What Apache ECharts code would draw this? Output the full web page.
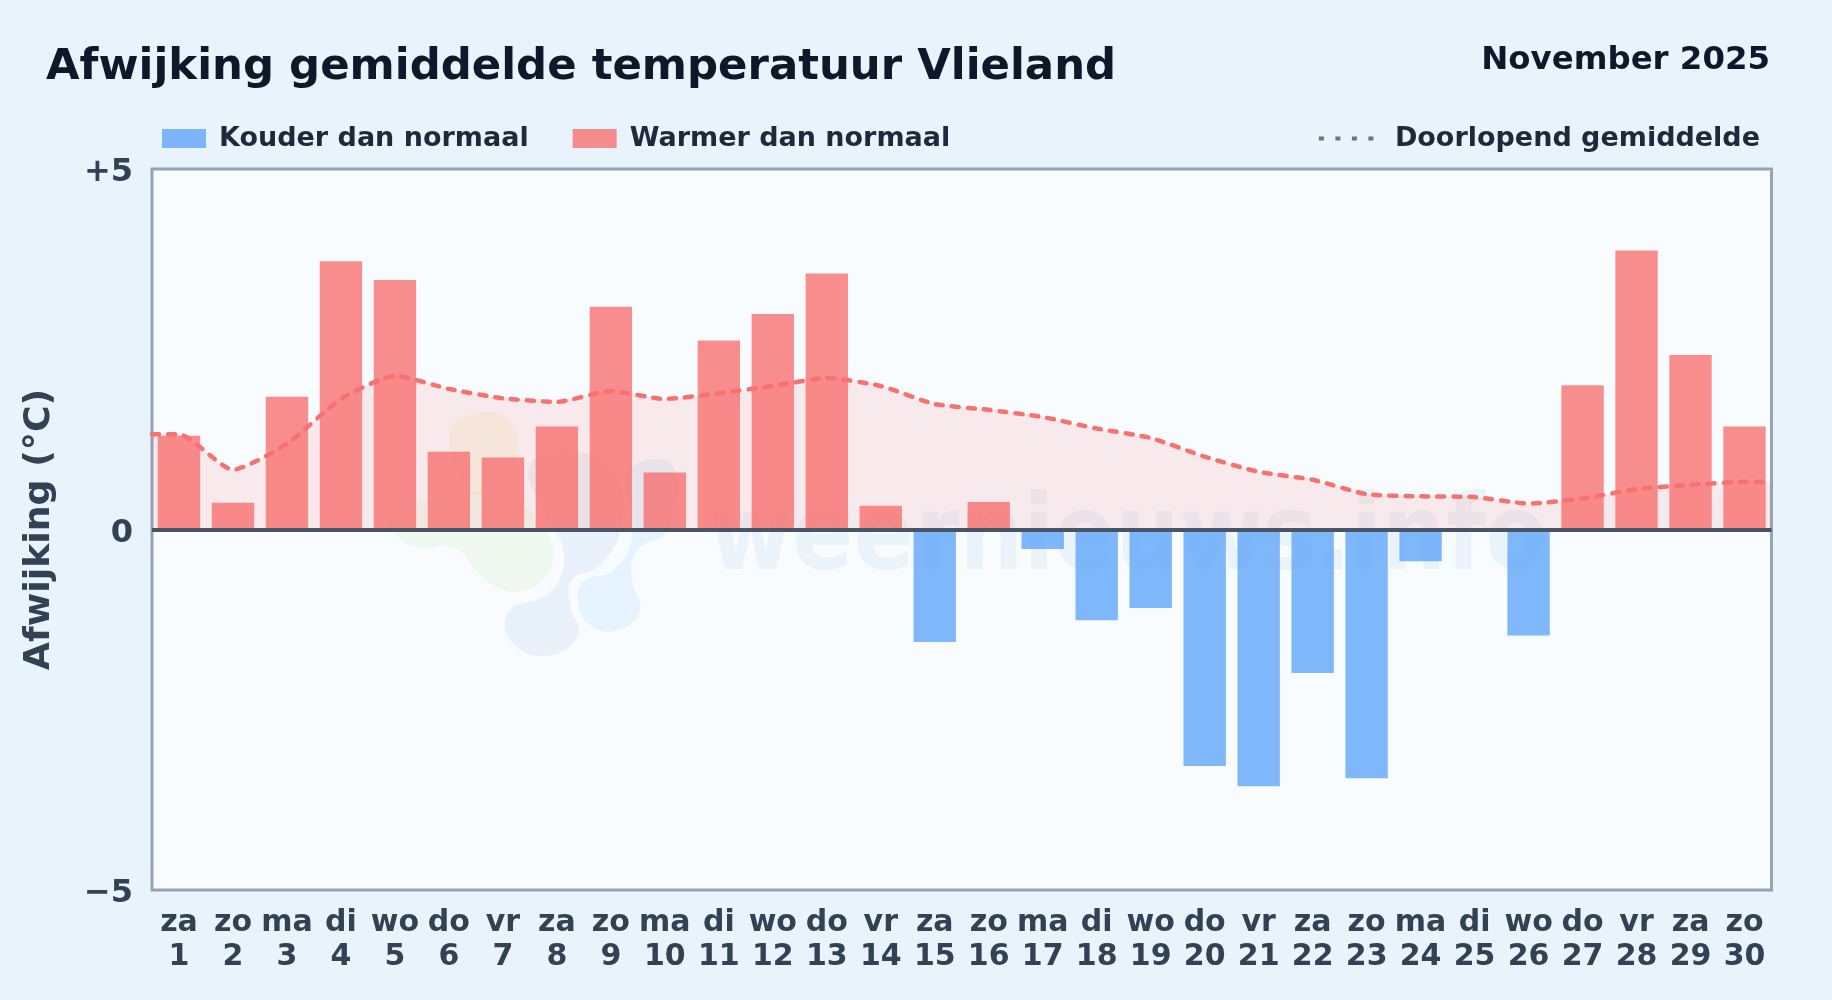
<!DOCTYPE html>
<html><head><meta charset="utf-8">
<style>html,body{margin:0;padding:0;background:#e8f3fc}#c{width:1832px;height:1000px}</style>
<script src="https://cdn.jsdelivr.net/npm/echarts@6/dist/echarts.min.js"></script>
</head><body><div id="c"></div>
<script>
const weekdays = ['za','zo','ma','di','wo','do','vr','za','zo','ma','di','wo','do','vr','za','zo','ma','di','wo','do','vr','za','zo','ma','di','wo','do','vr','za','zo'];
const days = [1,2,3,4,5,6,7,8,9,10,11,12,13,14,15,16,17,18,19,20,21,22,23,24,25,26,27,28,29,30];
const deviation = [1.30,0.37,1.84,3.72,3.46,1.08,1.00,1.43,3.09,0.79,2.62,2.99,3.55,0.33,-1.56,0.38,-0.27,-1.26,-1.09,-3.28,-3.56,-1.99,-3.45,-0.44,0,-1.47,2.00,3.87,2.42,1.43];
const runningMean = [1.32,0.83,1.19,1.81,2.13,1.95,1.82,1.77,1.92,1.81,1.89,1.99,2.10,1.99,1.74,1.66,1.56,1.40,1.27,1.01,0.80,0.69,0.49,0.46,0.45,0.36,0.43,0.56,0.62,0.66];
const yTicks = {'5':'+5','0':'0','-5':'\u22125'};
const FONT = '"DejaVu Sans"';
const cold = deviation.map(v => v < 0 ? v : null);
const warm = deviation.map(v => v > 0 ? v : null);
const meanPoints = [[0, runningMean[0]], ...runningMean.map((v,i)=>[i+0.5, v]), [days.length, runningMean[runningMean.length-1]]];
const chart = echarts.init(document.getElementById('c'), null, {renderer:'canvas'});
const wm = (points, fill) => ({type:'polygon', z:1, silent:true, shape:{points, smooth:0.45}, style:{fill}});
chart.setOption({
  animation:false,
  backgroundColor:'#e8f3fc',
  title:[
    {text:'Afwijking gemiddelde temperatuur Vlieland', left:46, top:46, padding:0, textStyle:{fontFamily:FONT,fontWeight:'bold',fontSize:43.4,color:'#0f172a'}},
    {text:'November 2025', right:62, top:45, padding:0, textStyle:{fontFamily:FONT,fontWeight:'bold',fontSize:32.4,color:'#0f172a'}}
  ],
  legend:[
    {left:162, top:125, itemWidth:44, itemHeight:19, itemGap:44, padding:0,
     data:[{name:'Kouder dan normaal',icon:'rect'},{name:'Warmer dan normaal',icon:'rect'}],
     textStyle:{fontFamily:FONT,fontWeight:'bold',fontSize:27,color:'#1e293b',padding:[0,0,0,8]}, selectedMode:false},
    {right:72, top:125, itemWidth:58, itemHeight:19, padding:0,
     data:[{name:'Doorlopend gemiddelde',lineStyle:{color:'#64748b',width:4,type:[5,11.5],cap:'butt',opacity:1},itemStyle:{opacity:0}}],
     textStyle:{fontFamily:FONT,fontWeight:'bold',fontSize:27,color:'#1e293b',padding:[0,0,0,13]}, selectedMode:false}
  ],
  grid:{left:152,right:60.5,top:169,bottom:110,show:true,backgroundColor:'#f8fcff',borderColor:'#94a3b8',borderWidth:3},
  xAxis:[
    {type:'category',data:days.map((d,i)=>weekdays[i]+'\n'+d),position:'bottom',
     axisLine:{show:false,onZero:false},axisTick:{show:false},
     axisLabel:{interval:0,margin:16,lineHeight:34,fontFamily:FONT,fontWeight:'bold',fontSize:30,color:'#334155'}},
    {type:'value',show:false,min:0,max:days.length}
  ],
  yAxis:{type:'value',min:-5,max:5,interval:5,name:'Afwijking (\u00b0C)',nameLocation:'middle',nameGap:94,
    nameTextStyle:{fontFamily:FONT,fontWeight:'bold',fontSize:36.3,color:'#334155'},
    axisLine:{show:false},axisTick:{show:false},splitLine:{show:false},
    axisLabel:{margin:19,fontFamily:FONT,fontWeight:'bold',fontSize:32,color:'#334155',lineHeight:32,verticalAlign:'top',padding:[-12,0,0,0],formatter:v=>yTicks[String(v)]}},
  series:[
    {name:'Kouder dan normaal',type:'bar',data:cold,barWidth:'78.5%',barGap:'-100%',z:3,itemStyle:{color:'rgba(96,165,250,0.8)'}},
    {name:'Warmer dan normaal',type:'bar',data:warm,barWidth:'78.5%',barGap:'-100%',z:3,itemStyle:{color:'rgba(248,113,113,0.8)'}},
    {name:'Doorlopend gemiddelde',type:'line',xAxisIndex:1,data:meanPoints,smooth:0.2,showSymbol:false,symbol:'none',z:4,
     lineStyle:{color:'#f87171',width:4.5,type:[7,9],cap:'round'},areaStyle:{color:'rgba(250,113,105,0.13)',opacity:1},
     markLine:{silent:true,symbol:'none',label:{show:false},z:5,data:[{yAxis:0}],animation:false,lineStyle:{color:'#475569',width:4,type:'solid'}}}
  ],
  graphic:[
    wm([[450,432],[478,413],[510,420],[516,455],[498,490],[470,490]],'rgba(234,179,8,0.08)'),
    wm([[386,515],[430,500],[500,495],[545,530],[550,570],[515,592],[480,575],[455,548],[410,545]],'rgba(132,204,22,0.07)'),
    wm([[530,465],[580,452],[618,480],[620,530],[600,565],[572,580],[570,605],[578,635],[545,656],[510,640],[510,610],[545,596],[562,572],[562,545],[548,520]],'rgba(30,96,168,0.07)'),
    wm([[628,470],[672,465],[668,528],[636,552],[632,580],[640,610],[618,630],[590,625],[578,600],[585,580],[610,572],[630,545],[630,510]],'rgba(56,160,240,0.09)'),
    {type:'text',z:1,silent:true,left:709,top:488,scaleX:0.851,style:{text:'weernieuws.info',fontFamily:FONT,fontWeight:'bold',fontSize:106,fill:'rgba(30,96,168,0.06)'}}
  ]
});
</script></body></html>
